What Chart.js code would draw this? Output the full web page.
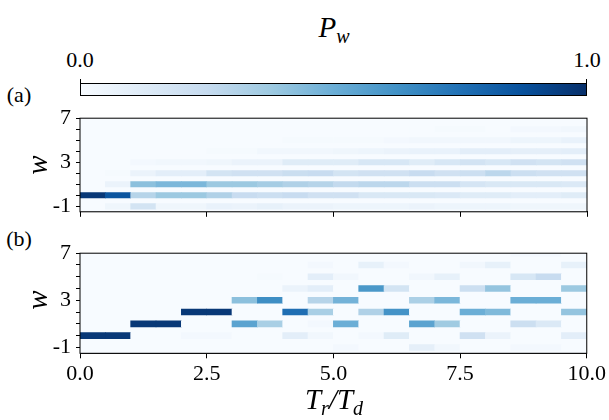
<!DOCTYPE html>
<html>
<head>
<meta charset="utf-8">
<script src="https://cdn.jsdelivr.net/npm/chart.js@4"></script>
<style>
  body { margin: 0; background: #fff; }
  #wrap { position: relative; width: 609px; height: 420px; overflow: hidden; font-family: "Liberation Serif", serif; color: #000; }
  .lbl { position: absolute; transform: translate(-50%, -50%); line-height: 1; white-space: nowrap; }
  .math { font-style: italic; font-size: 29px; }
  .math sub { font-size: 20px; vertical-align: -6px; }
  canvas { position: absolute; left: 0; }
</style>
</head>
<body>
<div id="wrap">
  <div class="lbl math" style="left:334px; top:29px;">P<sub>w</sub></div>
  <div class="lbl" style="left:80px; top:60px; font-size:22px;">0.0</div>
  <div class="lbl" style="left:587px; top:60px; font-size:22px;">1.0</div>
  <div id="cbar" style="position:absolute; left:80px; top:83px; width:505px; height:11px; border:1px solid #000;"></div>
  <div style="position:absolute; left:80px; top:79px; width:1px; height:4px; background:#000;"></div>
  <div style="position:absolute; left:586px; top:79px; width:1px; height:4px; background:#000;"></div>
  <div class="lbl" style="left:19px; top:95px; font-size:22px;">(a)</div>
  <div class="lbl" style="left:19px; top:239px; font-size:22px;">(b)</div>
  <canvas id="chartA" width="609" height="130" style="top:100px;"></canvas>
  <canvas id="chartB" width="609" height="160" style="top:235px;"></canvas>
  <div class="lbl math" style="left:37px; top:165px; transform: translate(-50%, -50%) rotate(-90deg);">w</div>
  <div class="lbl math" style="left:37px; top:300px; transform: translate(-50%, -50%) rotate(-90deg);">w</div>
  <div class="lbl math" style="left:334px; top:401px;">T<sub>r</sub>/T<sub>d</sub></div>
</div>
<script>
// column centres of T_r/T_d
const tRatio = [0.25, 0.75, 1.25, 1.75, 2.25, 2.75, 3.25, 3.75, 4.25, 4.75,
                5.25, 5.75, 6.25, 6.75, 7.25, 7.75, 8.25, 8.75, 9.25, 9.75];
const wValues = [-1, 0, 1, 2, 3, 4, 5, 6, 7];
const wTicks = [-1, 0, 1, 2, 3, 4, 5, 6, 7];
const wLabels = [-1, 3, 7];
const xTicks = [0, 2.5, 5, 7.5, 10];

// panel (a) P_w, one array per w
const aWm1 = [0, 0.04, 0.18, 0.04, 0.04, 0.07, 0.06, 0.08, 0.06, 0.06, 0.05, 0.05, 0.05, 0.06, 0.05, 0.05, 0.05, 0.04, 0.04, 0.04];
const aW0 = [0.97, 0.86, 0.3, 0.38, 0.38, 0.32, 0.24, 0.22, 0.24, 0.2, 0.2, 0.15, 0.15, 0.15, 0.14, 0.12, 0.12, 0.1, 0.1, 0.12];
const aW1 = [0, 0.06, 0.42, 0.46, 0.46, 0.38, 0.38, 0.35, 0.32, 0.3, 0.26, 0.28, 0.28, 0.22, 0.22, 0.17, 0.15, 0.15, 0.15, 0.14];
const aW2 = [0, 0.01, 0.06, 0.1, 0.1, 0.18, 0.2, 0.2, 0.23, 0.24, 0.18, 0.2, 0.2, 0.24, 0.2, 0.22, 0.28, 0.22, 0.2, 0.2];
const aW3 = [0, 0, 0.02, 0.03, 0.03, 0.04, 0.06, 0.06, 0.12, 0.12, 0.12, 0.16, 0.16, 0.12, 0.16, 0.19, 0.16, 0.2, 0.18, 0.2];
const aW4 = [0, 0, 0, 0, 0, 0.01, 0.01, 0.03, 0.03, 0.03, 0.04, 0.05, 0.06, 0.07, 0.07, 0.1, 0.1, 0.09, 0.09, 0.1];
const aW5 = [0, 0, 0, 0, 0, 0, 0, 0, 0.01, 0.01, 0.01, 0.01, 0.02, 0.03, 0.03, 0.03, 0.03, 0.05, 0.05, 0.07];
const aW6 = [0, 0, 0, 0, 0, 0, 0, 0, 0, 0, 0, 0, 0, 0, 0.01, 0.01, 0, 0.02, 0.02, 0.03];
const aW7 = [0, 0, 0, 0, 0, 0, 0, 0, 0, 0, 0, 0, 0, 0, 0, 0, 0, 0, 0, 0];

// panel (b)
const bWm1 = [0, 0, 0, 0, 0, 0, 0, 0, 0, 0, 0.02, 0, 0, 0.09, 0.03, 0, 0, 0.02, 0.02, 0];
const bW0 = [0.97, 0.97, 0, 0, 0.02, 0.02, 0, 0, 0.1, 0.03, 0, 0.02, 0.12, 0, 0, 0.2, 0.06, 0, 0, 0.1];
const bW1 = [0, 0, 0.97, 0.97, 0, 0, 0.55, 0.34, 0, 0.02, 0.5, 0, 0, 0.55, 0.37, 0, 0, 0.22, 0.14, 0];
const bW2 = [0, 0, 0, 0, 0.97, 0.97, 0, 0, 0.76, 0.34, 0, 0.32, 0.62, 0, 0, 0.5, 0.45, 0, 0, 0.4];
const bW3 = [0, 0, 0, 0, 0, 0, 0.42, 0.64, 0, 0.3, 0.48, 0, 0, 0.33, 0.46, 0, 0, 0.5, 0.5, 0];
const bW4 = [0, 0, 0, 0, 0, 0, 0, 0, 0.06, 0.1, 0, 0.6, 0.18, 0, 0, 0.22, 0.4, 0, 0, 0.38];
const bW5 = [0, 0, 0, 0, 0, 0, 0, 0.01, 0, 0.1, 0.03, 0, 0, 0.03, 0.08, 0, 0, 0.16, 0.24, 0];
const bW6 = [0, 0, 0, 0, 0, 0, 0, 0, 0, 0.02, 0, 0.08, 0.02, 0, 0, 0.03, 0.08, 0, 0, 0.08];
const bW7 = [0, 0, 0, 0, 0, 0, 0, 0, 0, 0, 0, 0, 0, 0, 0, 0, 0, 0.02, 0.02, 0];

const panelA = [aWm1, aW0, aW1, aW2, aW3, aW4, aW5, aW6, aW7];
const panelB = [bWm1, bW0, bW1, bW2, bW3, bW4, bW5, bW6, bW7];

// matplotlib "Blues"
const bluesStops = [[247,251,255],[222,235,247],[198,219,239],[158,202,225],[107,174,214],[66,146,198],[33,113,181],[8,81,156],[8,48,107]];
function blues(v) {
  const t = Math.max(0, Math.min(1, v)) * 8;
  const i = Math.min(7, Math.floor(t));
  const f = t - i;
  const a = bluesStops[i], b = bluesStops[i + 1];
  const c = [0, 1, 2].map(k => Math.round(a[k] + (b[k] - a[k]) * f));
  return "rgb(" + c.join(",") + ")";
}

document.getElementById("cbar").style.background =
  "linear-gradient(to right, " + bluesStops.map((c, i) => "rgb(" + c.join(",") + ") " + (i * 12.5) + "%").join(", ") + ")";

const tickFont = { family: "'Liberation Serif', serif", size: 22 };

const boxPlugin = {
  id: "box",
  beforeDatasetsDraw(chart) {
    const a = chart.chartArea, ctx = chart.ctx;
    ctx.save();
    ctx.fillStyle = blues(0);
    ctx.fillRect(a.left, a.top, a.right - a.left, a.bottom - a.top);
    ctx.restore();
  },
  afterDraw(chart) {
    const a = chart.chartArea, ctx = chart.ctx;
    ctx.save();
    ctx.strokeStyle = "#000";
    ctx.lineWidth = 1;
    ctx.strokeRect(a.left, a.top, a.right - a.left, a.bottom - a.top);
    ctx.restore();
  }
};

function makePanel(id, rows, showX, xHeight) {
  const datasets = rows.map((vals, r) => ({
    data: tRatio.map((t) => ({ x: t, y: [wValues[r] - 0.25, wValues[r] + 0.25] })),
    backgroundColor: vals.map(blues),
    borderWidth: 0,
    grouped: false,
    categoryPercentage: 1,
    barPercentage: 1
  }));
  return new Chart(document.getElementById(id), {
    type: "bar",
    data: { datasets: datasets },
    options: {
      responsive: false,
      animation: false,
      devicePixelRatio: 1,
      layout: { padding: { top: 10.7, right: 22, left: 0, bottom: 0 } },
      plugins: { legend: { display: false }, tooltip: { enabled: false } },
      scales: {
        x: {
          type: "linear",
          offset: false,
          min: 0,
          max: 10,
          afterBuildTicks: (axis) => { axis.ticks = xTicks.map(v => ({ value: v })); },
          ticks: {
            callback: (v) => showX ? Number(v).toFixed(1) : "",
            font: tickFont, color: "#000", padding: 3, maxRotation: 0, autoSkip: false
          },
          grid: { offset: false, drawOnChartArea: false, tickLength: 5, tickColor: "#000" },
          border: { display: true, color: "#000" },
          afterFit: (axis) => { axis.height = xHeight; }
        },
        y: {
          type: "linear",
          min: -1.5,
          max: 7,
          afterBuildTicks: (axis) => { axis.ticks = wTicks.map(v => ({ value: v })); },
          ticks: {
            callback: (v) => wLabels.includes(v) ? String(v) : "",
            font: tickFont, color: "#000", padding: 5, autoSkip: false
          },
          grid: { drawOnChartArea: false, tickLength: 4, tickColor: "#000" },
          border: { display: true, color: "#000" },
          afterFit: (axis) => { axis.width = 80; }
        }
      }
    },
    plugins: [boxPlugin]
  });
}

makePanel("chartA", panelA, false, 11.7);
makePanel("chartB", panelB, true, 41.7);
</script>
</body>
</html>
